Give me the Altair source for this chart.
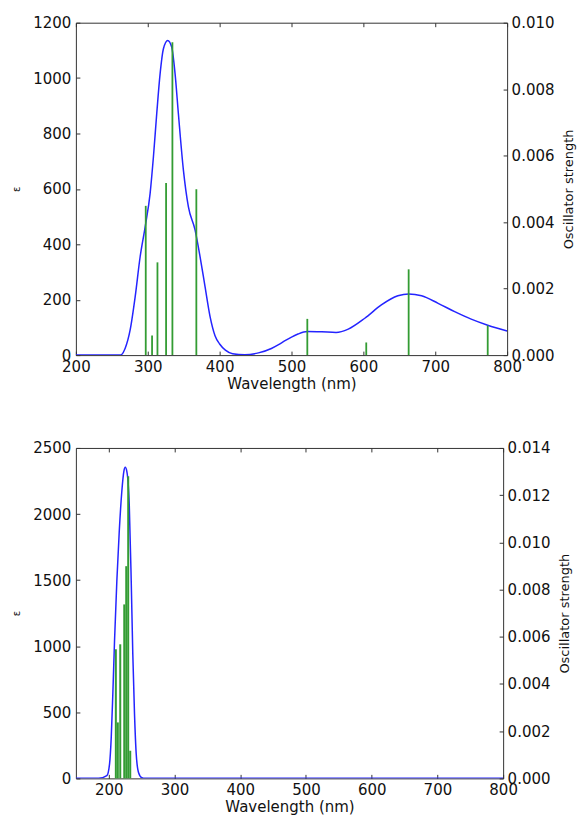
import altair as alt
import pandas as pd

# ---------------- data ----------------
x_ticks = [200, 300, 400, 500, 600, 700, 800]

# top panel: broadened spectrum (epsilon) and oscillator strengths
top_curve_nm = [200, 250, 262, 268.6, 275.5, 282.5, 289.4, 296.4, 303.3, 307.9, 312.5,
                317.2, 321.8, 327.8, 333.3, 338, 342.6, 349.6, 356.5, 365.8, 372.8,
                379.7, 386.7, 393.6, 400, 408, 418, 435, 454, 472, 482, 491, 500,
                509, 522, 542, 562, 579, 602, 625, 648, 663, 681, 704, 727, 750,
                773, 800]
top_curve_eps = [0, 0, 0, 25, 91, 211, 355, 463, 584, 716, 872,
                 1016, 1106, 1136, 1112, 1016, 872, 668, 536, 452, 355,
                 247, 139, 70, 40, 18, 5, 1, 8, 24, 38, 52, 65,
                 76, 85, 84, 82, 94, 133, 181, 214, 221, 214, 187, 157, 130,
                 108, 87]
top_stick_nm = [297.2, 306, 313.5, 325.5, 334.3, 367.6, 522, 604, 663, 773]
top_stick_f = [0.00449, 0.00059, 0.00279, 0.00518, 0.00941, 0.00499, 0.00109,
               0.00038, 0.00258, 0.00089]
top_eps_ticks = [0, 200, 400, 600, 800, 1000, 1200]
top_f_ticks = [0.0, 0.002, 0.004, 0.006, 0.008, 0.010]

# bottom panel
bot_curve_nm = [150, 184.5, 197.1, 201.2, 203.8, 206.2, 208.8, 212.3, 216, 219.9, 223,
                225.1, 227.5, 231.2, 234.2, 236.6, 239.2, 241.8, 245.3, 250.3, 255, 800]
bot_curve_eps = [0, 0, 20, 108, 310, 637, 1039, 1492, 1870, 2172, 2323,
                 2353, 2323, 2072, 1492, 939, 486, 184, 45, 5, 0, 0]
bot_stick_nm = [210.8, 213.8, 217.5, 223.6, 226.6, 229.6, 232.7]
bot_stick_f = [0.00547, 0.00237, 0.00568, 0.00737, 0.00899, 0.0128, 0.00117]
bot_eps_ticks = [0, 500, 1000, 1500, 2000, 2500]
bot_f_ticks = [0.0, 0.002, 0.004, 0.006, 0.008, 0.010, 0.012, 0.014]

FONT = "DejaVu Sans"
INWARD = {"expr": "-4"}


def panel(curve_nm, curve_eps, stick_nm, stick_f, xdom, eps_dom, eps_ticks,
          f_dom, f_ticks, w, h, stick_w):
    curve = pd.DataFrame({"nm": curve_nm, "eps": curve_eps})
    sticks = pd.DataFrame({"nm": stick_nm, "f": stick_f,
                           "zero": [0.0] * len(stick_nm)})
    xscale = alt.Scale(domain=xdom, nice=False, zero=False)

    line = alt.Chart(curve).mark_line(
        color="#2424ff", strokeWidth=1.5, interpolate="monotone", clip=True
    ).encode(
        x=alt.X("nm:Q", scale=xscale,
                axis=alt.Axis(orient="bottom", values=x_ticks, format="d",
                              title="Wavelength (nm)", tickSize=INWARD,
                              labelPadding=8, titlePadding=2, labelFlush=False)),
        y=alt.Y("eps:Q", scale=alt.Scale(domain=eps_dom, nice=False),
                axis=alt.Axis(orient="left", values=eps_ticks, format="d",
                              title="ε", titleFontSize=10, tickSize=INWARD,
                              labelPadding=9, titlePadding=11, labelFlush=False)),
    )
    rules = alt.Chart(sticks).mark_rule(
        color="#339c33", strokeWidth=stick_w
    ).encode(
        x=alt.X("nm:Q", scale=xscale,
                axis=alt.Axis(orient="top", values=x_ticks, labels=False,
                              title=None, tickSize=INWARD)),
        y=alt.Y("f:Q", scale=alt.Scale(domain=f_dom, nice=False),
                axis=alt.Axis(orient="right", values=f_ticks, format=".3f",
                              title="Oscillator strength", titleAngle=270,
                              titleFontSize=13, tickSize=INWARD,
                              labelPadding=8, titlePadding=22, labelFlush=False)),
        y2="zero:Q",
    )
    return (alt.layer(line, rules)
            .resolve_scale(y="independent")
            .resolve_axis(x="independent")
            .properties(width=w, height=h))


top = panel(top_curve_nm, top_curve_eps, top_stick_nm, top_stick_f,
            [200, 800], [0, 1200], top_eps_ticks, [0, 0.010], top_f_ticks,
            432, 333, 1.8)
bottom = panel(bot_curve_nm, bot_curve_eps, bot_stick_nm, bot_stick_f,
               [150, 800], [0, 2500], bot_eps_ticks, [0, 0.014], bot_f_ticks,
               428, 331, 2.0)

chart = (alt.vconcat(top, bottom, spacing=48)
         .properties(padding={"left": 3, "top": 6, "right": 0, "bottom": 5})
         .configure_view(stroke="#333333", strokeWidth=1)
         .configure_axis(grid=False, domain=False, labelFont=FONT, titleFont=FONT,
                         labelFontSize=15, titleFontSize=15, titleFontWeight="normal",
                         labelColor="#111111", titleColor="#111111",
                         tickColor="#333333", tickWidth=1))

chart.save("out.html", embed_options={"renderer": "svg", "actions": False})
